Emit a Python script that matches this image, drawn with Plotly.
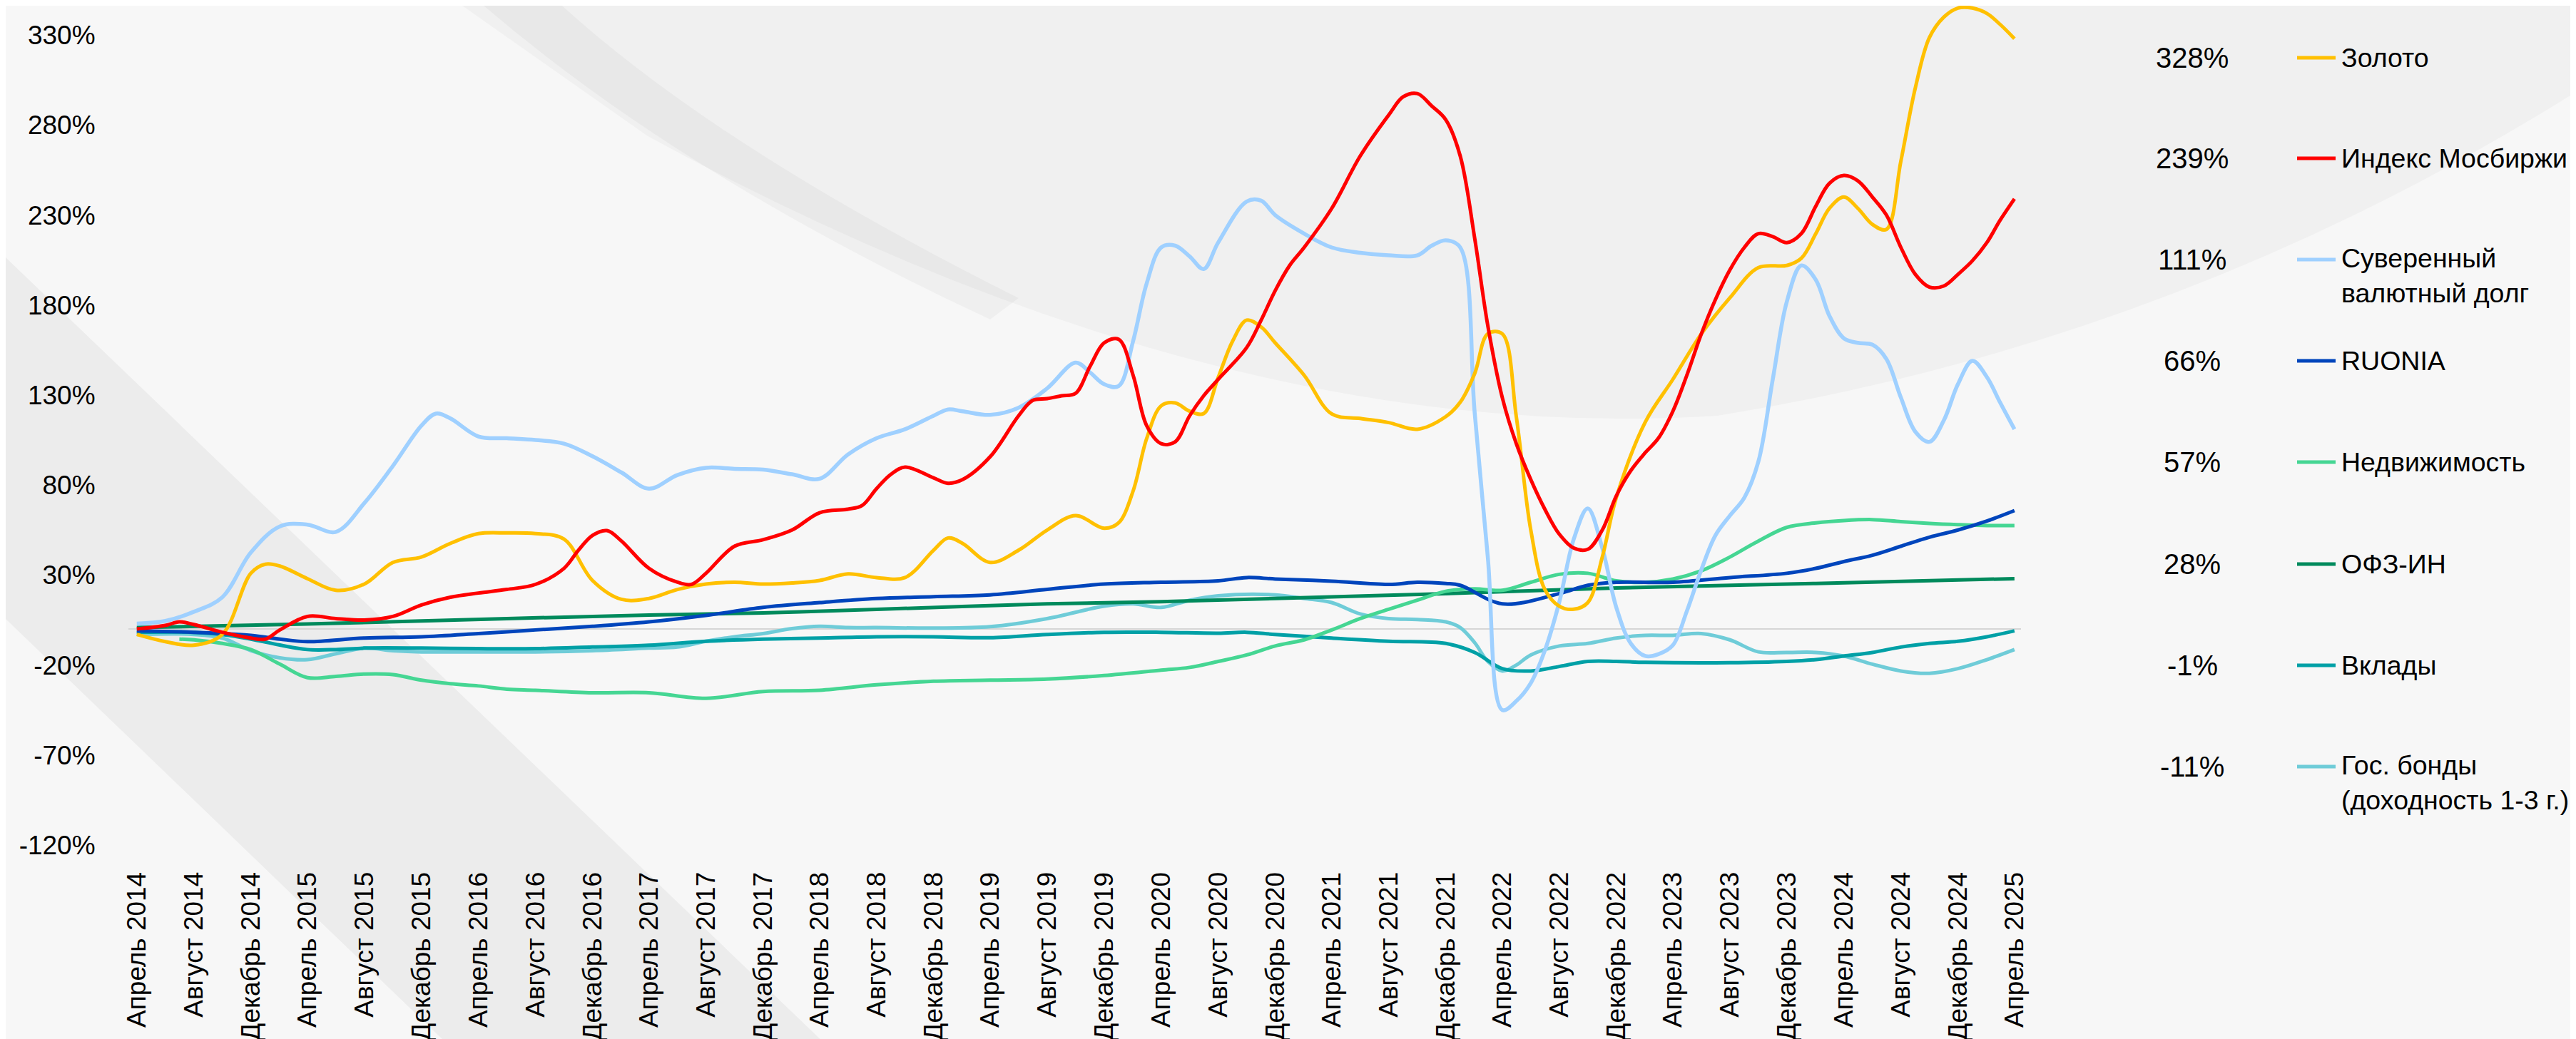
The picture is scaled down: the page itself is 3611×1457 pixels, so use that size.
import pandas as pd
import plotly.graph_objects as go

# ---------------- data (month offsets from April 2014, values in %) ----------------
GOLD_M = [0, 2, 4, 6, 8, 9, 10, 12, 14, 16, 18, 20, 22, 24, 26, 28, 30, 32, 34, 36, 38, 40, 42, 44, 46, 48, 50, 52,
          54, 56, 57, 58, 60, 62, 64, 66, 68, 69, 70, 71, 72, 73, 74, 75, 76, 77, 78, 79, 80, 82, 84, 86, 88, 90, 92,
          93, 94, 95, 96, 97, 98, 99, 100, 101, 102, 103, 104, 106, 108, 110, 112, 114, 116, 117, 118, 119, 120, 121,
          122, 123, 124, 125, 126, 127, 128, 129, 130, 131, 132]
GOLD_V = [-3, -7, -9, -3, 31, 36, 35, 28, 21.5, 25, 37, 40, 47.6, 53, 53.4, 53, 50, 27, 16.5, 17, 22, 25, 26, 25, 25.6,
          27, 30.6, 28.6, 28.6, 43.8, 50.6, 47.6, 37, 43.8, 55, 63, 56, 59, 76.7, 105.8, 124, 125.6, 121, 119.7, 139.7,
          160, 171.6, 167.8, 159, 141, 119.5, 117, 114.7, 111, 118, 126, 142, 164, 164, 118, 55, 22, 12.7, 11, 14.7, 40,
          73, 115, 138.7, 164, 184, 200.8, 202, 206, 219.7, 233.7, 240, 233.7, 224.8, 222, 260, 300.8, 328.6, 340, 345,
          345, 342, 336, 328]

MOEX_M = [0, 2, 3, 4, 6, 8, 9, 10, 12, 14, 16, 18, 20, 22, 24, 26, 28, 30, 31, 32, 33, 34, 36, 38, 39, 40, 42, 44, 46,
          48, 50, 51, 52, 53, 54, 56, 57, 58, 60, 62, 63, 64, 65, 66, 67, 68, 69, 70, 71, 72, 73, 74, 75, 76, 78, 79,
          80, 81, 82, 84, 86, 88, 89, 90, 91, 92, 93, 94, 95, 96, 97, 98, 99, 100, 101, 102, 103, 104, 105, 106, 107,
          108, 109, 110, 111, 112, 113, 114, 115, 116, 117, 118, 119, 120, 121, 122, 123, 124, 125, 126, 127, 128, 129,
          130, 131, 132]
MOEX_V = [0, 2, 4, 2.5, -1.8, -5, -5.6, -0.5, 7, 5.8, 5, 7, 13.4, 17.7, 20, 22, 24.8, 33.7, 43.8, 52, 54.7, 48.9, 33.7,
          26, 24.8, 31, 46, 49.6, 55, 64.6, 66.6, 68.6, 78, 86, 90, 84, 81, 83, 95.7, 118.5, 127, 128, 129.6, 131, 146,
          159, 161, 141, 113, 103, 104, 118.5, 129.6, 138.7, 156.4, 171.6, 188, 202, 212, 233.7, 262.8, 285.6, 295.7,
          297.5, 290.6, 283, 262.8, 217, 168.6, 128.6, 103, 83, 66.6, 52.7, 45, 44.3, 55, 74, 88, 98, 106, 121, 141, 164,
          183, 199.5, 212, 219.7, 218, 214.7, 219.7, 235, 247.6, 252, 249, 240, 230, 212, 197, 190, 190.6, 197, 204.6,
          214.7, 227, 239]

SOV_M = [0, 2, 4, 6, 8, 10, 12, 14, 16, 18, 20, 21, 22, 24, 26, 28, 30, 32, 34, 36, 38, 40, 42, 44, 46, 48, 50, 52, 54,
         56, 57, 58, 60, 62, 64, 66, 67, 68, 69, 70, 71, 72, 73, 74, 75, 76, 78, 79, 80, 82, 84, 86, 88, 90, 91, 92, 93,
         94, 95, 96, 97, 98, 99, 100, 101, 102, 103, 104, 105, 106, 107, 108, 109, 110, 111, 112, 113, 114, 115, 116,
         117, 118, 119, 120, 121, 122, 123, 124, 125, 126, 127, 128, 129, 130, 131, 132]
SOV_V = [3, 4.5, 9.6, 17.7, 42.5, 57, 58, 54, 70, 90.6, 113, 119.7, 117, 107, 106, 105, 103, 96, 87, 78, 85.6, 89.6, 89,
         88.6, 86, 83.5, 97, 106, 111, 118.5, 122, 121, 119, 123, 133.7, 148, 142.5, 136, 135, 160, 192, 212, 213, 207,
         200, 214.7, 237.5, 238, 230, 219.7, 212, 209, 207.6, 207.6, 213, 216, 212, 120, 40, -45, -40, -30, -12, 15, 50,
         67, 45, 12, -8, -15, -14, -9, 10, 33, 52, 63, 73, 93, 139, 182, 202, 194, 174, 161.5, 159, 158, 150, 128.6,
         109.6, 104, 116, 136, 149, 140, 126, 111]

RUONIA_M = [0, 4, 8, 10, 12, 16, 20, 24, 28, 32, 36, 40, 44, 48, 52, 56, 60, 64, 68, 72, 76, 78, 80, 84, 88, 90, 92, 93,
            96, 100, 102, 104, 108, 112, 116, 118, 120, 122, 124, 126, 128, 130, 132]
RUONIA_V = [-1, -1.8, -3.5, -5.6, -7, -5, -4.3, -2.5, -0.5, 1.5, 4, 7.6, 12, 14.7, 17, 18, 19, 22, 25, 26, 26.8, 28.6,
            27.8, 26.6, 24.8, 26, 25.3, 24.3, 14, 19.7, 24.3, 26, 26, 28.6, 31, 33.7, 37.5, 41, 46, 51, 55, 60, 65.8]

REALTY_M = [3, 4, 6, 8, 10, 12, 14, 16, 18, 20, 22, 24, 26, 28, 32, 36, 40, 44, 48, 52, 56, 60, 64, 68, 72, 74, 76, 78,
            80, 82, 84, 86, 88, 90, 92, 94, 96, 98, 100, 102, 104, 106, 108, 110, 112, 114, 116, 118, 120, 122, 124, 126,
            128, 130, 132]
REALTY_V = [-5.6, -6, -8, -11.4, -19.5, -27, -26.3, -25, -25.3, -28.4, -30.4, -31.6, -33.4, -34, -35.4, -35.4, -38.5,
            -34.7, -34, -31, -29, -28.4, -27.8, -25.8, -22.8, -21.3, -18, -14.4, -9.4, -6, -0.5, 5.8, 11, 16, 21, 22.3,
            21.5, 26, 30.4, 31, 26.8, 26, 27.8, 32.4, 40, 48.9, 56.5, 59, 60.3, 60.8, 59.7, 58.7, 58, 57.5, 57.5]

OFZ_M = [0, 12, 26, 36, 44, 52, 64, 72, 80, 92, 104, 118, 132]
OFZ_V = [0.8, 2.8, 5.8, 7.8, 9, 10.9, 14, 15.2, 17, 19.7, 22.8, 25.3, 28]

DEPO_M = [0, 4, 6, 8, 10, 12, 14, 16, 20, 24, 28, 32, 36, 40, 44, 48, 52, 56, 60, 64, 68, 72, 76, 78, 80, 84, 88, 92,
          94, 96, 98, 100, 102, 104, 106, 112, 116, 118, 120, 122, 124, 126, 128, 130, 132]
DEPO_V = [-1.8, -1.8, -3, -5.6, -8.9, -11.4, -11.4, -10.6, -10.6, -10.9, -10.9, -10, -9, -6.8, -5.6, -5, -4.3, -4.3,
          -4.8, -3, -1.8, -1.8, -2.3, -1.8, -3, -5, -6.8, -8, -13, -22, -23.3, -20.8, -18, -18, -18.5, -18.7, -18, -17,
          -15, -13, -10, -8, -6.8, -4.3, -1]

BONDS_M = [0, 4, 6, 8, 10, 12, 14, 16, 18, 20, 24, 28, 32, 36, 38, 40, 42, 44, 46, 48, 50, 52, 56, 60, 64, 68, 70, 72,
           74, 76, 80, 82, 84, 86, 88, 90, 92, 93, 94, 95, 96, 97, 98, 100, 102, 104, 106, 108, 110, 112, 114, 116, 118,
           120, 122, 124, 126, 128, 130, 132]
BONDS_V = [-3, -3, -5, -12, -16, -17, -13.7, -10.6, -12, -12.7, -12.7, -12.7, -12, -10.6, -10, -6.8, -4.3, -2.5, 0.2,
           1.5, 0.8, 0.8, 0.5, 1.3, 5.8, 12.7, 14, 12, 16, 18.5, 19, 17, 14.7, 8.4, 5.8, 5.3, 4, 0.8, -7.6, -18, -23.3,
           -20, -14.4, -9.4, -8, -5, -3.5, -3.5, -2.5, -6, -12.7, -13, -13, -15, -19.5, -23.3, -24.6, -22, -17, -11.4]

SERIES_NAMES = ["Золото", "Индекс Мосбиржи", "Суверенный<br>валютный долг", "RUONIA", "Недвижимость", "ОФЗ-ИН",
                "Вклады", "Гос. бонды<br>(доходность 1-3 г.)"]
SERIES_FINAL = ["328%", "239%", "111%", "66%", "57%", "28%", "-1%", "-11%"]
SERIES_COLORS = ["#FFC000", "#FF0000", "#9FD0FF", "#0045BC", "#45D693", "#008A5C", "#00A0A6", "#6FCCD8"]

Y_TICKS = [-120, -70, -20, 30, 80, 130, 180, 230, 280, 330]
TICK_MONTHS = list(range(0, 133, 4))
MONTH_NAMES = {4: "Апрель", 8: "Август", 12: "Декабрь"}

START = pd.Timestamp("2014-04-01")


def to_date(m):
    return START + pd.DateOffset(months=int(m))


# ---------------- figure ----------------
W, H = 3611, 1457
PLOT_L, PLOT_R, PLOT_B = 172, 2825, 1177
FONT = "Liberation Sans, Arial, sans-serif"

fig = go.Figure()
series = [(GOLD_M, GOLD_V), (MOEX_M, MOEX_V), (SOV_M, SOV_V), (RUONIA_M, RUONIA_V),
          (REALTY_M, REALTY_V), (OFZ_M, OFZ_V), (DEPO_M, DEPO_V), (BONDS_M, BONDS_V)]
draw_order = [7, 6, 5, 4, 3, 2, 0, 1]
for i in draw_order:
    ms, vs = series[i]
    fig.add_trace(go.Scatter(
        x=[to_date(m) for m in ms], y=vs, mode="lines",
        line=dict(color=SERIES_COLORS[i], width=5.5 if i == 2 else 5, shape="spline", smoothing=1.0),
        name=SERIES_NAMES[i], showlegend=False, hoverinfo="skip"))

tickvals = [to_date(m) for m in TICK_MONTHS]
ticktext = [f"{MONTH_NAMES[to_date(m).month]} {to_date(m).year}" for m in TICK_MONTHS]

x0 = START - pd.Timedelta(days=18)
x1 = to_date(132) + pd.Timedelta(days=14)

fig.update_layout(
    width=W, height=H,
    margin=dict(l=0, r=0, t=0, b=0),
    paper_bgcolor="#f7f7f7", plot_bgcolor="rgba(0,0,0,0)",
    font=dict(family=FONT, color="#000000"),
    xaxis=dict(type="date", domain=[PLOT_L / W, PLOT_R / W], range=[x0, x1],
               tickvals=tickvals, ticktext=ticktext, tickangle=-90,
               tickfont=dict(size=37, family=FONT, color="#000000"),
               showgrid=False, zeroline=False, showline=False,
               ticks="outside", ticklen=22, tickcolor="rgba(0,0,0,0)", automargin=False),
    yaxis=dict(domain=[1 - PLOT_B / H, 1], range=[-120, 346.3],
               tickvals=Y_TICKS, ticktext=[f"{v}%" for v in Y_TICKS],
               tickfont=dict(size=37, family=FONT, color="#000000"),
               showgrid=False, zeroline=True, zerolinecolor="#d6d6d6", zerolinewidth=2, showline=False,
               ticks="outside", ticklen=38, tickcolor="rgba(0,0,0,0)", automargin=False),
)


# ---------------- background decoration (pixel coords -> paper) ----------------
def px_path(cmds):
    out = []
    for c in cmds:
        if isinstance(c, str):
            out.append(c)
        else:
            out.append(f"{c[0] / W:.5f},{1 - c[1] / H:.5f}")
    return " ".join(out)


# top-right grey region bounded below by a wide arc
fig.add_shape(type="path", xref="paper", yref="paper", layer="below",
              path=px_path(["M", (640, 0), "L", (900, 183), "Q", (1700, 620), (2400, 575),
                            "Q", (3050, 470), (3611, 116), "L", (3611, 0), "Z"]),
              fillcolor="rgba(0,0,0,0.028)", line=dict(width=0))
# thin grey stripe at the top
fig.add_shape(type="path", xref="paper", yref="paper", layer="below",
              path=px_path(["M", (670, 0), "L", (780, 0), "Q", (1000, 200), (1420, 410),
                            "L", (1380, 440), "Q", (950, 240), (670, 0), "Z"]),
              fillcolor="rgba(0,0,0,0.03)", line=dict(width=0))
# lower-left diagonal wedge
fig.add_shape(type="path", xref="paper", yref="paper", layer="below",
              path=px_path(["M", (0, 353), "L", (1150, 1457), "L", (620, 1457), "L", (0, 860), "Z"]),
              fillcolor="rgba(0,0,0,0.045)", line=dict(width=0))

# ---------------- custom legend ----------------
ROWS = [73, 214, 356, 498, 640, 783, 925, 1067]
for i, ry in enumerate(ROWS):
    yp = 1 - ry / H
    fig.add_annotation(xref="paper", yref="paper", x=3065 / W, y=yp, text=SERIES_FINAL[i],
                       showarrow=False, xanchor="center", yanchor="middle",
                       font=dict(size=40, family=FONT, color="#000000"))
    fig.add_shape(type="line", xref="paper", yref="paper", x0=3212 / W, x1=3266 / W, y0=yp, y1=yp,
                  line=dict(color=SERIES_COLORS[i], width=5))
    if "<br>" in SERIES_NAMES[i]:
        fig.add_annotation(xref="paper", yref="paper", x=3272 / W, y=1 - (ry - 25) / H, text=SERIES_NAMES[i],
                           showarrow=False, xanchor="left", yanchor="top", align="left",
                           font=dict(size=37.5, family=FONT, color="#000000"))
    else:
        fig.add_annotation(xref="paper", yref="paper", x=3272 / W, y=yp, text=SERIES_NAMES[i],
                           showarrow=False, xanchor="left", yanchor="middle", align="left",
                           font=dict(size=37.5, family=FONT, color="#000000"))

fig.write_html("out.html")
